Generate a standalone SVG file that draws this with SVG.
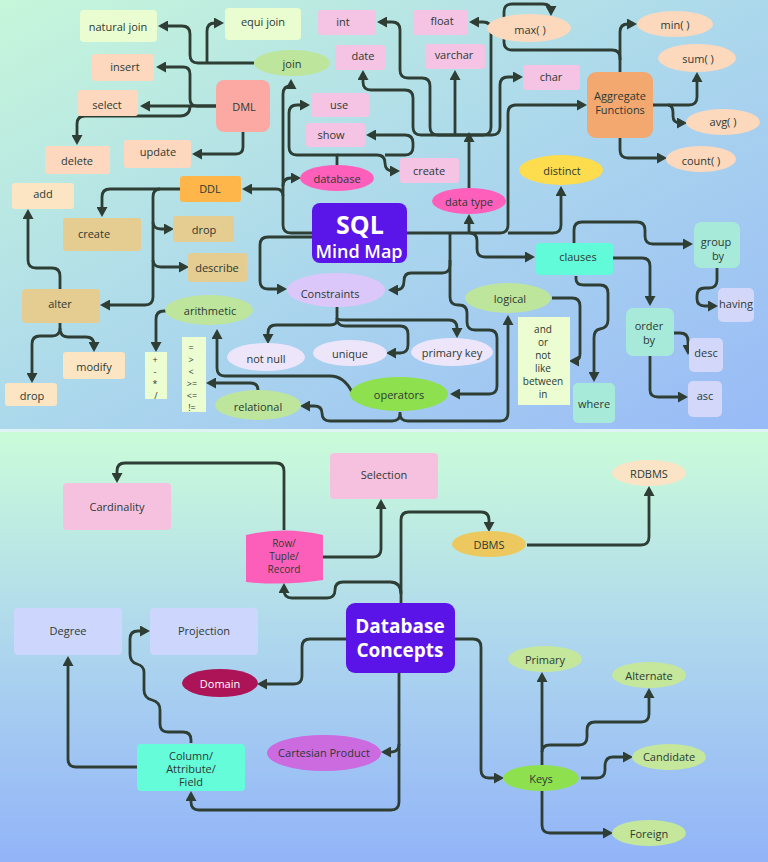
<svg xmlns="http://www.w3.org/2000/svg" width="768" height="862" viewBox="0 0 768 862">
<defs>
<linearGradient id="g1" x1="0" y1="0" x2="1" y2="1"><stop offset="0" stop-color="#c6f7da"/><stop offset="0.5" stop-color="#acd8ec"/><stop offset="1" stop-color="#98baf7"/></linearGradient>
<linearGradient id="g2" x1="0" y1="0" x2="0" y2="1"><stop offset="0" stop-color="#cbfcd9"/><stop offset="0.5" stop-color="#add6ee"/><stop offset="1" stop-color="#92b4f8"/></linearGradient>
<marker id="a" markerUnits="userSpaceOnUse" markerWidth="11" markerHeight="11" refX="7" refY="5.5" orient="auto"><path d="M0,0 L10,5.5 L0,11 z" fill="#2f3e35"/></marker>
<style>
.c path{fill:none;stroke:#2f3e35;stroke-width:2.8;stroke-linejoin:round;marker-end:url(#a)}
text{font-family:"Open Sans","Liberation Sans",sans-serif;font-size:11px;fill:#2c3a33;text-anchor:middle;dominant-baseline:central}
.w{fill:#fff}
.s{font-size:9px}
.m{font-size:10px}
</style>
</defs>
<rect x="0" y="0" width="768" height="431" fill="url(#g1)"/>
<rect x="0" y="431" width="768" height="431" fill="url(#g2)"/>
<rect x="0" y="429" width="768" height="3" fill="#dff3f4"/>

<g class="c" id="connectors">
<path d="M254,63 H198 Q190,63 190,55 V34 Q190,26 182,26 H161"/>
<path d="M207,63 V31 Q207,23 215,23 H221"/>
<path d="M216,106 H197 Q190,106 190,99 V74 Q190,67 183,67 H159"/>
<path d="M216,106 H143"/>
<path d="M190,106 Q190,116 180,116 H85 Q77,116 77,124 V142"/>
<path d="M243,132 V147 Q243,154 236,154 H195"/>
<path d="M312,233 H291 Q283,233 283,225 V94 Q283,86 291,86 V82"/>
<path d="M283,196 Q283,189 276,189 H245"/>
<path d="M283,186 Q283,178 291,178 H298"/>
<path d="M337,165 V155 H297 Q289,155 289,147 V113 Q289,105 297,105 H307"/>
<path d="M337,155 H377 Q385,155 385,163 Q385,171 393,171 H397"/>
<path d="M385,155 H405 Q413,155 413,147 V143 Q413,135 405,135 H369"/>
<path d="M469,188 V135"/>
<path d="M469,135 H438 Q430,135 430,127 V86 Q430,78 422,78 H408 Q400,78 400,70 V30 Q400,22 392,22 H380"/>
<path d="M469,135 H421 Q413,135 413,127 V98 Q413,90 405,90 H371 Q363,90 363,82 V73"/>
<path d="M455,135 V73"/>
<path d="M469,135 H483 Q491,135 491,127 V30 Q491,22 483,22 H472"/>
<path d="M469,135 H492 Q500,135 500,127 V85 Q500,77 508,77 H520"/>
<path d="M620,72 V58 Q620,50 612,50 H512 Q504,50 504,42 V12 Q504,4 512,4 H543 Q551,4 551,12 V13"/>
<path d="M620,60 V32 Q620,24 628,24 H634"/>
<path d="M407,233 H500 Q508,233 508,225 V113 Q508,105 516,105 H584"/>
<path d="M508,233 H553 Q561,233 561,225 V189"/>
<path d="M469,233 V217"/>
<path d="M653,105 H689 Q697,105 697,97 V75"/>
<path d="M668,105 Q673,105 673,113 V116 Q673,123 680,123 H684"/>
<path d="M620,138 V150 Q620,158 628,158 H664"/>
<path d="M470,233 Q477,233 477,241 V249 Q477,257 485,257 H532"/>
<path d="M574,243 V230 Q574,222 582,222 H637 Q645,222 645,230 V236 Q645,244 653,244 H690"/>
<path d="M717,268 V280 Q717,288 709,288 H705 Q697,288 697,296 V299 Q697,306 705,306 H715"/>
<path d="M613,258 H642 Q650,258 650,266 V303"/>
<path d="M576,276 V279 Q576,285 584,285 H600 Q608,285 608,293 V320 Q608,328 600,329 Q594,330 594,338 V379"/>
<path d="M674,333 H680 Q688,333 688,341 V352"/>
<path d="M650,356 V390 Q650,397 658,397 H685"/>
<path d="M552,298 H572 Q580,298 580,306 V354 Q580,361 573,361 H572"/>
<path d="M450,232 V265 Q450,273 442,273 H411 Q404,273 404,281 Q404,290 396,290 H391"/>
<path d="M450,260 V297 Q450,305 458,305 H459 Q467,305 467,313 V322 Q467,330 475,330 H489 Q497,330 497,338 V386 Q497,394 489,394 H453"/>
<path d="M400,412 V414 Q400,421 408,421 H500 Q508,421 508,413 V318"/>
<path d="M400,414 Q400,421 392,421 H330 Q322,421 322,413 Q322,406 314,406 H303"/>
<path d="M352,392 Q344,376 330,376 H225 Q217,376 217,368 V332"/>
<path d="M258,390 V390 Q258,383 250,383 H209"/>
<path d="M166,311 H164 Q156,311 156,319 V349"/>
<path d="M312,237 H268 Q260,237 260,245 V281 Q260,289 268,289 H284"/>
<path d="M337,307 V320 Q337,325 330,325 H276 Q268,325 268,333 V341"/>
<path d="M337,318 Q337,320 345,320 H449 Q457,320 457,328 V335"/>
<path d="M337,318 Q337,326 345,326 H400 Q408,326 408,334 V345 Q408,353 400,353 H389"/>
<path d="M180,189 H110 Q102,189 102,197 V214"/>
<path d="M160,189 Q153,189 153,197 V297 Q153,305 145,305 H103"/>
<path d="M153,222 Q153,229 161,229 H171"/>
<path d="M153,260 Q153,267 161,267 H186"/>
<path d="M60,289 V276 Q60,268 52,268 H36 Q28,268 28,260 V212"/>
<path d="M60,323 V328 Q60,336 52,336 H40 Q32,336 32,344 V380"/>
<path d="M60,328 Q60,337 68,337 H86 Q94,337 94,345 V349"/>

<path d="M284,530 V471 Q284,463 276,463 H125 Q117,463 117,471 V480"/>
<path d="M323,557 H373 Q381,557 381,549 V502"/>
<path d="M401,603 V520 Q401,512 409,512 H481 Q489,512 489,520 V529"/>
<path d="M401,594 Q401,582 390,582 H343 Q335,582 335,590 Q335,598 327,598 H292 Q284,598 284,590 V586"/>
<path d="M527,545 H641 Q649,545 649,537 V489"/>
<path d="M346,639 H310 Q302,639 302,647 V676 Q302,684 294,684 H260"/>
<path d="M399,673 V802 Q399,810 391,810 H199 Q191,810 191,802 V794"/>
<path d="M399,744 Q399,752 391,752 H384"/>
<path d="M455,639 H473 Q481,639 481,647 V770 Q481,778 489,778 H501"/>
<path d="M542,765 V675"/>
<path d="M542,752 Q542,745 550,745 H579 Q587,745 587,737 V730 Q587,722 595,722 H641 Q649,722 649,714 V691"/>
<path d="M581,778 H597 Q605,778 605,770 V766 Q605,757 613,757 H630"/>
<path d="M542,791 V825 Q542,833 550,833 H610"/>
<path d="M191,743 V740 Q191,732 183,732 H168 Q160,732 160,724 V710 Q160,702 152,700 Q144,698 144,690 V672 Q144,666 137,664 Q130,662 130,654 V639 Q130,631 138,631 H147"/>
<path d="M137,767 H76 Q68,767 68,759 V659"/>
</g>

<g id="n-natural-join"><rect x="80" y="10" width="77" height="32" rx="4" fill="#eafdd1"/><text x="118" y="26">natural join</text></g>
<g id="n-equi-join"><rect x="225" y="8" width="76" height="32" rx="4" fill="#eafdd1"/><text x="263" y="21">equi join</text></g>
<g id="n-int"><rect x="318" y="10" width="58" height="25" rx="3" fill="#f5c3e3"/><text x="343" y="21">int</text></g>
<g id="n-date"><rect x="335" y="45" width="50" height="25" rx="3" fill="#f5c3e3"/><text x="363" y="55">date</text></g>
<g id="n-float"><rect x="413" y="10" width="55" height="25" rx="3" fill="#f5c3e3"/><text x="442" y="20">float</text></g>
<g id="n-varchar"><rect x="425" y="44" width="60" height="25" rx="3" fill="#f5c3e3"/><text x="454" y="54">varchar</text></g>
<g id="n-max"><ellipse cx="529" cy="28" rx="42" ry="14" fill="#fcd8bd"/><text x="530" y="29">max( )</text></g>
<g id="n-min"><ellipse cx="675" cy="24" rx="38" ry="13" fill="#fcd8bd"/><text x="675" y="24">min( )</text></g>
<g id="n-sum"><ellipse cx="697" cy="58" rx="39" ry="14" fill="#fcd8bd"/><text x="698" y="58">sum( )</text></g>
<g id="n-avg"><ellipse cx="723" cy="122" rx="37" ry="13" fill="#fcd8bd"/><text x="723" y="121">avg( )</text></g>
<g id="n-count"><ellipse cx="701" cy="159" rx="35" ry="13" fill="#fcd8bd"/><text x="701" y="160">count( )</text></g>
<g id="n-aggregate"><rect x="587" y="72" width="66" height="66" rx="9" fill="#f2a86f"/><text x="620" y="95">Aggregate</text><text x="620" y="109">Functions</text></g>
<g id="n-char"><rect x="523" y="65" width="57" height="25" rx="3" fill="#f5c3e3"/><text x="551" y="76">char</text></g>
<g id="n-join"><ellipse cx="292" cy="63" rx="38" ry="13" fill="#bde59b"/><text x="292" y="63">join</text></g>
<g id="n-insert"><rect x="92" y="54" width="62" height="27" rx="3" fill="#fed8be"/><text x="125" y="66">insert</text></g>
<g id="n-select"><rect x="78" y="90" width="60" height="26" rx="3" fill="#fed8be"/><text x="107" y="104">select</text></g>
<g id="n-dml"><rect x="216" y="80" width="54" height="52" rx="8" fill="#fca9a4"/><text x="244" y="106">DML</text></g>
<g id="n-use"><rect x="311" y="93" width="58" height="24" rx="3" fill="#f5c3e3"/><text x="339" y="104">use</text></g>
<g id="n-show"><rect x="306" y="123" width="59" height="24" rx="3" fill="#f5c3e3"/><text x="331" y="134">show</text></g>
<g id="n-update"><rect x="124" y="140" width="67" height="28" rx="3" fill="#fed8be"/><text x="158" y="151">update</text></g>
<g id="n-delete"><rect x="45" y="146" width="65" height="28" rx="3" fill="#fed8be"/><text x="77" y="160">delete</text></g>
<g id="n-create-db"><rect x="400" y="158" width="59" height="25" rx="3" fill="#f5c3e3"/><text x="429" y="170">create</text></g>
<g id="n-database"><ellipse cx="337" cy="178" rx="37" ry="13" fill="#fd5fbb"/><text x="337" y="178">database</text></g>
<g id="n-datatype"><ellipse cx="469" cy="201" rx="37" ry="13" fill="#fd5fbb"/><text x="469" y="201">data type</text></g>
<g id="n-distinct"><ellipse cx="561" cy="170" rx="42" ry="15" fill="#fddc4d"/><text x="562" y="170">distinct</text></g>
<g id="n-ddl"><rect x="180" y="176" width="61" height="26" rx="3" fill="#feb64a"/><text x="210" y="188">DDL</text></g>
<g id="n-add"><rect x="12" y="183" width="62" height="26" rx="3" fill="#fbe5c3"/><text x="43" y="193">add</text></g>
<g id="n-create"><rect x="63" y="218" width="78" height="33" rx="3" fill="#e5cc90"/><text x="94" y="233">create</text></g>
<g id="n-drop"><rect x="173" y="216" width="61" height="26" rx="3" fill="#e5cc90"/><text x="204" y="229">drop</text></g>
<g id="n-describe"><rect x="188" y="253" width="59" height="29" rx="3" fill="#e5cc90"/><text x="217" y="267">describe</text></g>
<g id="n-sql"><rect x="312" y="203" width="95" height="60" rx="8" fill="#5a15e8"/><text x="360" y="224" class="w" style="font-size:25px;font-weight:bold">SQL</text><text x="359" y="251" class="w" style="font-size:18px;font-weight:600">Mind Map</text></g>
<g id="n-clauses"><rect x="536" y="243" width="77" height="32" rx="4" fill="#62fbd9"/><text x="578" y="256">clauses</text></g>
<g id="n-groupby"><rect x="694" y="222" width="46" height="46" rx="7" fill="#a8ead9"/><text x="716" y="241">group</text><text x="718" y="255">by</text></g>
<g id="n-having"><rect x="718" y="288" width="36" height="34" rx="5" fill="#d3d8fb"/><text x="736" y="303">having</text></g>
<g id="n-constraints"><ellipse cx="336" cy="290" rx="49" ry="17" fill="#dcc7fb"/><text x="330" y="293">Constraints</text></g>
<g id="n-alter"><rect x="22" y="289" width="78" height="34" rx="4" fill="#e5cc90"/><text x="60" y="303">alter</text></g>
<g id="n-arithmetic"><ellipse cx="209" cy="310" rx="44" ry="15" fill="#bde59b"/><text x="210" y="310">arithmetic</text></g>
<g id="n-logical"><ellipse cx="508" cy="298" rx="43" ry="15" fill="#bde59b"/><text x="510" y="298">logical</text></g>
<g id="n-orderby"><rect x="626" y="308" width="48" height="48" rx="7" fill="#a8ead9"/><text x="649" y="325">order</text><text x="649" y="339">by</text></g>
<g id="n-logicops"><rect x="518" y="317" width="52" height="88" fill="#ebfdd1"/><text x="543" y="329" class="m">and</text><text x="543" y="342" class="m">or</text><text x="543" y="355" class="m">not</text><text x="543" y="368" class="m">like</text><text x="543" y="381" class="m">between</text><text x="543" y="394" class="m">in</text></g>
<g id="n-arithops"><rect x="145" y="352" width="22" height="47" fill="#ebfdd1"/><text x="155" y="359" class="s">+</text><text x="155" y="371" class="s">-</text><text x="155" y="383" class="s">*</text><text x="156" y="395" class="s">/</text></g>
<g id="n-relops"><rect x="182" y="337" width="24" height="75" fill="#ebfdd1"/><text x="191" y="347" class="s">=</text><text x="191" y="359" class="s">&gt;</text><text x="191" y="371" class="s">&lt;</text><text x="192" y="383" class="s">&gt;=</text><text x="192" y="395" class="s">&lt;=</text><text x="192" y="407" class="s">!=</text></g>
<g id="n-notnull"><ellipse cx="266" cy="357" rx="39" ry="14" fill="#ede6fb"/><text x="266" y="358">not null</text></g>
<g id="n-unique"><ellipse cx="350" cy="353" rx="37" ry="13" fill="#ede6fb"/><text x="350" y="353">unique</text></g>
<g id="n-primarykey"><ellipse cx="452" cy="352" rx="41" ry="14" fill="#ede6fb"/><text x="452" y="352">primary key</text></g>
<g id="n-modify"><rect x="63" y="352" width="62" height="27" rx="3" fill="#fbe5c3"/><text x="94" y="366">modify</text></g>
<g id="n-desc"><rect x="689" y="338" width="34" height="34" rx="5" fill="#d3d8fb"/><text x="706" y="352">desc</text></g>
<g id="n-drop2"><rect x="5" y="383" width="52" height="23" rx="3" fill="#fbe5c3"/><text x="32" y="395">drop</text></g>
<g id="n-relational"><ellipse cx="258" cy="405" rx="43" ry="15" fill="#bde59b"/><text x="258" y="406">relational</text></g>
<g id="n-operators"><ellipse cx="399" cy="394" rx="49" ry="17" fill="#8ee04f"/><text x="399" y="394">operators</text></g>
<g id="n-where"><rect x="573" y="383" width="42" height="40" rx="5" fill="#a8ead9"/><text x="594" y="403">where</text></g>
<g id="n-asc"><rect x="688" y="381" width="34" height="36" rx="5" fill="#d3d8fb"/><text x="705" y="395">asc</text></g>

<g id="n-cardinality"><rect x="63" y="483" width="108" height="47" rx="4" fill="#f6c1df"/><text x="117" y="506">Cardinality</text></g>
<g id="n-selection"><rect x="330" y="453" width="108" height="46" rx="4" fill="#f6c1df"/><text x="384" y="474">Selection</text></g>
<g id="n-rdbms"><ellipse cx="649" cy="473" rx="37" ry="13" fill="#fbe3c6"/><text x="649" y="473">RDBMS</text></g>
<g id="n-row"><path d="M246,535 Q284,526 323,535 V580 Q284,586 246,582 Z" fill="#fc5fba"/><text x="284" y="543" class="m">Row/</text><text x="284" y="556" class="m">Tuple/</text><text x="284" y="569" class="m">Record</text></g>
<g id="n-dbms"><ellipse cx="489" cy="544" rx="37" ry="13" fill="#ecc85f"/><text x="489" y="544">DBMS</text></g>
<g id="n-degree"><rect x="14" y="608" width="108" height="47" rx="4" fill="#cdd6fc"/><text x="68" y="630">Degree</text></g>
<g id="n-projection"><rect x="150" y="608" width="108" height="47" rx="4" fill="#cdd6fc"/><text x="204" y="630">Projection</text></g>
<g id="n-dbconcepts"><rect x="346" y="603" width="109" height="70" rx="9" fill="#5b14e8"/><text x="400" y="626" class="w" style="font-size:19px;font-weight:bold">Database</text><text x="400" y="650" class="w" style="font-size:19px;font-weight:bold">Concepts</text></g>
<g id="n-domain"><ellipse cx="220" cy="683" rx="38" ry="14" fill="#ad1357"/><text x="220" y="683" class="w">Domain</text></g>
<g id="n-primary"><ellipse cx="545" cy="659" rx="37" ry="13" fill="#c4e79c"/><text x="545" y="659">Primary</text></g>
<g id="n-alternate"><ellipse cx="649" cy="675" rx="37" ry="13" fill="#c4e79c"/><text x="649" y="675">Alternate</text></g>
<g id="n-cartesian"><ellipse cx="324" cy="753" rx="57" ry="18" fill="#cc6ae0"/><text x="324" y="752">Cartesian Product</text></g>
<g id="n-column"><rect x="137" y="744" width="108" height="47" rx="4" fill="#64fcd9"/><text x="191" y="755">Column/</text><text x="191" y="768">Attribute/</text><text x="191" y="781">Field</text></g>
<g id="n-candidate"><ellipse cx="669" cy="757" rx="37" ry="13" fill="#c4e79c"/><text x="669" y="756">Candidate</text></g>
<g id="n-keys"><ellipse cx="541" cy="778" rx="38" ry="13" fill="#8ee04f"/><text x="541" y="778">Keys</text></g>
<g id="n-foreign"><ellipse cx="649" cy="833" rx="37" ry="13" fill="#c4e79c"/><text x="649" y="833">Foreign</text></g>
</svg>
